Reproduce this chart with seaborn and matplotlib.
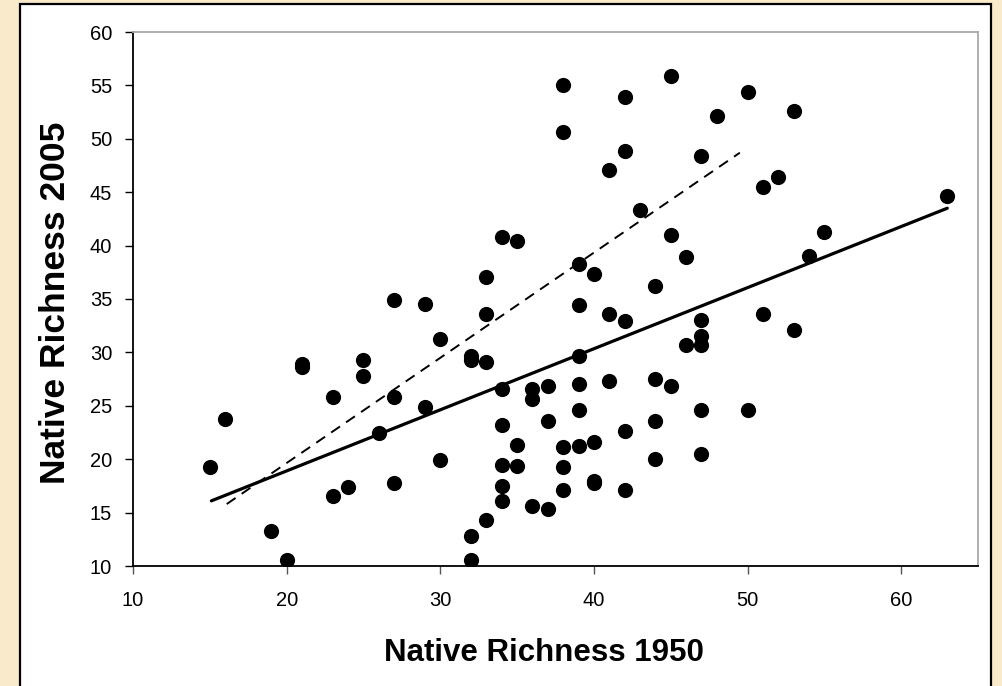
import matplotlib
matplotlib.use("Agg")
import matplotlib.pyplot as plt
import seaborn as sns
import pandas as pd
from matplotlib.patches import Rectangle

# ---- data ----
richness_1950 = [15, 16, 19, 20, 21, 21, 23, 23, 24, 25, 25, 26, 27, 27, 27, 29, 29, 30, 30,
                 32, 32, 32, 32, 33, 33, 33, 33, 34, 34, 34, 34, 34, 34, 35, 35, 35,
                 36, 36, 36, 37, 37, 37, 38, 38, 38, 38, 38, 39, 39, 39, 39, 39, 39,
                 40, 40, 40, 40, 41, 41, 41, 42, 42, 42, 42, 42, 43, 44, 44, 44, 44,
                 45, 45, 45, 46, 46, 47, 47, 47, 47, 47, 47, 48, 50, 50, 51, 51, 52,
                 53, 53, 54, 55, 63]
richness_2005 = [19.3, 23.8, 13.3, 10.6, 28.6, 28.9, 25.8, 16.6, 17.4, 29.3, 27.8, 22.5, 34.9, 25.8, 17.8, 34.5, 24.9, 31.3, 19.9,
                 29.7, 29.3, 12.8, 10.6, 37.1, 33.6, 29.1, 14.3, 40.8, 26.6, 23.2, 19.5, 17.5, 16.1, 40.4, 21.3, 19.4,
                 26.6, 25.6, 15.6, 26.9, 23.6, 15.3, 55.0, 50.6, 21.1, 19.3, 17.1, 38.3, 34.4, 29.7, 27.0, 24.6, 21.2,
                 37.3, 21.6, 18.0, 17.8, 47.1, 33.6, 27.3, 53.9, 48.9, 32.9, 22.6, 17.1, 43.3, 36.2, 27.5, 23.6, 20.0,
                 55.9, 41.0, 26.9, 38.9, 30.7, 48.4, 33.0, 31.5, 30.7, 24.6, 20.5, 52.1, 54.4, 24.6, 45.5, 33.6, 46.4,
                 52.6, 32.1, 39.0, 41.3, 44.6]

fit_x = [15.1, 63.0]
fit_y = [16.1, 43.5]
dash_x = [16.1, 49.5]
dash_y = [15.8, 48.7]

x_ticks = [10, 20, 30, 40, 50, 60]
y_ticks = [10, 15, 20, 25, 30, 35, 40, 45, 50, 55, 60]

df = pd.DataFrame({"x": richness_1950, "y": richness_2005})
fit_df = pd.DataFrame({"x": fit_x, "y": fit_y})
dash_df = pd.DataFrame({"x": dash_x, "y": dash_y})

# ---- style ----
sns.set_style("white")
plt.rcParams["font.family"] = ["Liberation Sans", "DejaVu Sans"]
plt.rcParams["text.color"] = "black"
plt.rcParams["axes.labelcolor"] = "black"

bg = "#F8EACB"
fig = plt.figure(figsize=(10.02, 6.86), dpi=100, facecolor=bg)

# white panel with black border (behind the axes)
panel = Rectangle((20 / 1002, -0.05), (991 - 20) / 1002, 1 - 4 / 686 + 0.05,
                  transform=fig.transFigure, facecolor="white", edgecolor="black",
                  linewidth=1.6, zorder=-10)
fig.patches.append(panel)

ax = fig.add_axes([133 / 1002, 1 - 566 / 686, (978 - 133) / 1002, (566 - 32) / 686])
ax.set_zorder(1)
ax.set_facecolor("white")

sns.scatterplot(data=df, x="x", y="y", ax=ax, color="black", s=120,
                edgecolor="black", linewidth=0, zorder=3, legend=False)
sns.lineplot(data=fit_df, x="x", y="y", ax=ax, color="black", linewidth=2.3, zorder=2)
sns.lineplot(data=dash_df, x="x", y="y", ax=ax, color="black", linewidth=1.4,
             linestyle=(0, (5.5, 3.8)), zorder=2)

ax.set_xlim(10, 65)
ax.set_ylim(10, 60)
ax.set_xticks(x_ticks)
ax.set_yticks(y_ticks)
ax.tick_params(axis="both", which="major", direction="out", length=6, width=1.0,
               labelsize=14.5, bottom=True, left=True)
ax.tick_params(axis="x", colors="#555555", labelcolor="black", pad=12)
ax.tick_params(axis="y", colors="black", labelcolor="black", pad=9)

for side in ["left", "bottom"]:
    ax.spines[side].set_color("black")
    ax.spines[side].set_linewidth(1.3)
for side in ["top", "right"]:
    ax.spines[side].set_color("#A8A8A8")
    ax.spines[side].set_linewidth(1.3)

ax.set_xlabel("Native Richness 1950", fontsize=22.5, fontweight="bold", color="black")
ax.set_ylabel("Native Richness 2005", fontsize=25.5, fontweight="bold", color="black")
ax.xaxis.set_label_coords((544 - 133) / 845, -0.134)
ax.yaxis.set_label_coords((72 - 133) / 845, 0.4925)

fig.savefig("out.png", dpi=100, facecolor=bg)
